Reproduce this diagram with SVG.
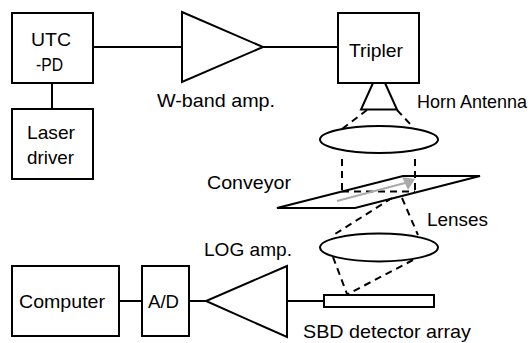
<svg xmlns="http://www.w3.org/2000/svg" width="530" height="343" viewBox="0 0 530 343">
<style>
text{font-family:"Liberation Sans",Arial,sans-serif;font-size:19px;fill:#000}
.s{fill:none;stroke:#000;stroke-width:2}
.b{fill:#fff;stroke:#000;stroke-width:2}
.d{fill:none;stroke:#000;stroke-width:2;stroke-dasharray:7 5}
</style>
<rect width="530" height="343" fill="#fff"/>
<g id="connectors">
<path class="s" d="M93 47H182M263 47H338M52 83V109M119 301H142M189 301H206M287 301H324"/>
<path class="d" d="M367 110L342 129M397 110L412 126M342 159V191M415 159V191M342 191.500H415"/>
<path class="d" d="M392 198L335 234M402 198L418 235M333 257L347 294M413 260L348 294"/>
</g>
<g id="utc-pd"><rect class="b" x="12" y="13" width="81" height="70"/><text x="31" y="46" textLength="40" lengthAdjust="spacingAndGlyphs">UTC</text><text x="36" y="71" textLength="27" lengthAdjust="spacingAndGlyphs">-PD</text></g>
<g id="laser-driver"><rect class="b" x="12" y="109" width="81" height="70"/><text x="27" y="139" textLength="48" lengthAdjust="spacingAndGlyphs">Laser</text><text x="27" y="164" textLength="47" lengthAdjust="spacingAndGlyphs">driver</text></g>
<g id="w-band-amp"><path class="b" d="M182 12L263 47L182 82Z"/><text x="157" y="107" textLength="118" lengthAdjust="spacingAndGlyphs">W-band amp.</text></g>
<g id="horn-antenna"><path class="s" d="M373 83L361 109.500H397L385 83"/><text x="417" y="108" textLength="110" lengthAdjust="spacingAndGlyphs">Horn Antenna</text></g>
<g id="tripler"><rect class="b" x="338" y="13" width="81" height="70"/><text x="349" y="57" textLength="54" lengthAdjust="spacingAndGlyphs">Tripler</text></g>
<g id="lens-1"><ellipse class="s" cx="379" cy="139.500" rx="59" ry="13.500"/></g>
<g id="conveyor"><path class="s" d="M277 208L403 176H480L355 208Z"/><path fill="none" stroke="#aaa" stroke-width="2" d="M337 201L405 183"/><path fill="#aaa" d="M415 179L402 177L408 190Z"/><text x="207" y="189" textLength="84" lengthAdjust="spacingAndGlyphs">Conveyor</text></g>
<g id="lens-2"><ellipse class="s" cx="379" cy="247.500" rx="59" ry="14"/><text x="427" y="226" textLength="61" lengthAdjust="spacingAndGlyphs">Lenses</text></g>
<g id="sbd-detector-array"><rect class="b" x="324" y="295" width="110" height="12"/><text x="303" y="338" textLength="168" lengthAdjust="spacingAndGlyphs">SBD detector array</text></g>
<g id="log-amp"><path class="b" d="M287 266L206 301L287 337Z"/><text x="204" y="256" textLength="88" lengthAdjust="spacingAndGlyphs">LOG amp.</text></g>
<g id="ad"><rect class="b" x="142" y="266" width="47" height="70"/><text x="148" y="308" textLength="31" lengthAdjust="spacingAndGlyphs">A/D</text></g>
<g id="computer"><rect class="b" x="12" y="266" width="107" height="70"/><text x="19" y="308" textLength="86" lengthAdjust="spacingAndGlyphs">Computer</text></g>
</svg>
